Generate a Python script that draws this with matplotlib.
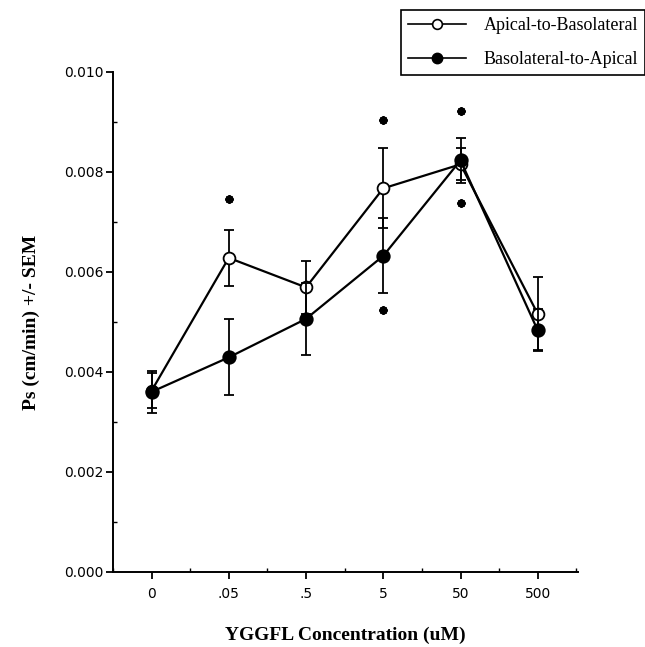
import matplotlib
matplotlib.use("Agg")
import matplotlib.pyplot as plt
import numpy as np
from matplotlib.ticker import MultipleLocator
from matplotlib.lines import Line2D

# ---- data ----
categories = ["0", ".05", ".5", "5", "50", "500"]
ab_mean = [0.00362, 0.00628, 0.00569, 0.00767, 0.00815, 0.00516]
ab_sem = [0.00035, 0.00056, 0.00053, 0.00080, 0.00032, 0.00073]
ba_mean = [0.00360, 0.00429, 0.00506, 0.00632, 0.00823, 0.00483]
ba_sem = [0.00042, 0.00076, 0.00072, 0.00075, 0.00045, 0.00042]
# significance asterisks (category index, y value)
star_idx = [1, 3, 3, 4, 4]
star_y = [0.00746, 0.00903, 0.00524, 0.00922, 0.00737]

yticks = [0.000, 0.002, 0.004, 0.006, 0.008, 0.010]
ytick_labels = ["0.000", "0.002", "0.004", "0.006", "0.008", "0.010"]
series_labels = ["Apical-to-Basolateral", "Basolateral-to-Apical"]

fig = plt.figure(figsize=(6.45, 6.47), dpi=100)
ax = fig.add_axes([0.175, 0.116, 0.721, 0.773])

x = np.arange(len(categories))

ax.errorbar(x, ab_mean, yerr=ab_sem, fmt='-o', color='black', lw=1.6,
            mfc='white', mec='black', mew=1.3, ms=8.5, elinewidth=1.3,
            capsize=3.5, capthick=1.5, zorder=3)
ax.errorbar(x, ba_mean, yerr=ba_sem, fmt='-o', color='black', lw=1.6,
            mfc='black', mec='black', mew=1.3, ms=9, elinewidth=1.3,
            capsize=3.5, capthick=1.5, zorder=4)

ax.plot([x[i] for i in star_idx], star_y, linestyle='none', marker=(8, 2, 0),
        ms=6, mew=1.6, color='black', zorder=5)

ax.set_xlim(-0.5, 5.52)
ax.set_ylim(0, 0.010)
ax.set_xticks(x)
ax.set_xticklabels(categories)
ax.xaxis.set_minor_locator(MultipleLocator(0.5))
ax.set_yticks(yticks)
ax.set_yticklabels(ytick_labels)
ax.yaxis.set_minor_locator(MultipleLocator(0.001))

for s in ['top', 'right']:
    ax.spines[s].set_visible(False)
for s in ['left', 'bottom']:
    ax.spines[s].set_linewidth(1.4)

ax.tick_params(axis='both', which='major', direction='out', length=5, width=1.3,
               labelsize=10)
ax.tick_params(axis='x', which='major', pad=6)
ax.tick_params(axis='y', which='major', pad=2)
ax.tick_params(axis='both', which='minor', direction='in', length=3, width=1.0)
for lab in ax.get_xticklabels() + ax.get_yticklabels():
    lab.set_family('DejaVu Sans')

ax.set_xlabel("YGGFL Concentration (uM)", fontsize=14, fontweight='bold',
              family='Liberation Serif', labelpad=18)
ax.set_ylabel("Ps (cm/min) +/- SEM", fontsize=14, fontweight='bold',
              family='Liberation Serif', labelpad=17)

h1 = Line2D([], [], color='black', lw=1.2, marker='o', mfc='white', mec='black', ms=7, mew=1.2)
h2 = Line2D([], [], color='black', lw=1.2, marker='o', mfc='black', mec='black', ms=7.5)
leg = fig.legend([h1, h2], series_labels, loc='upper left', bbox_to_anchor=(0.621, 0.985),
                 frameon=True, fancybox=False, edgecolor='black', framealpha=1,
                 prop={'family': 'Liberation Serif', 'size': 13},
                 handlelength=3.2, handletextpad=1.0, labelspacing=0.95,
                 borderpad=0.4, borderaxespad=0)
leg.get_frame().set_linewidth(1.2)

fig.savefig("out.png", dpi=100)
